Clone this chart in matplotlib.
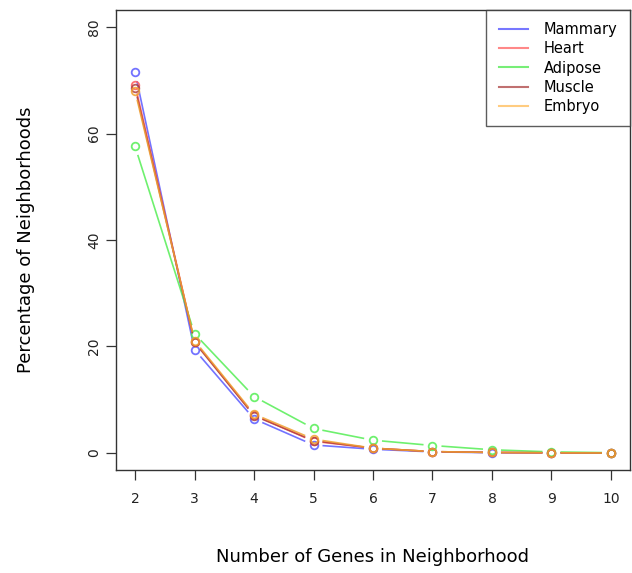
import matplotlib
matplotlib.use("Agg")
import matplotlib.pyplot as plt
import numpy as np
from matplotlib.lines import Line2D

genes = [2, 3, 4, 5, 6, 7, 8, 9, 10]
series_names = ["Mammary", "Heart", "Adipose", "Muscle", "Embryo"]
mammary = [71.5, 19.4, 6.4, 1.5, 0.7, 0.2, 0.05, 0.02, 0.0]
heart = [69.2, 20.9, 7.1, 2.2, 0.9, 0.25, 0.1, 0.03, 0.0]
adipose = [57.6, 22.4, 10.6, 4.6, 2.4, 1.4, 0.6, 0.2, 0.05]
muscle = [68.6, 20.8, 7.0, 2.3, 0.9, 0.25, 0.1, 0.03, 0.0]
embryo = [68.0, 21.1, 7.3, 2.6, 0.9, 0.25, 0.1, 0.03, 0.0]
colors = ["#5a5aff", "#ff5a5a", "#55ee55", "#b04040", "#f0a030"]
legend_colors = ["#7777ff", "#ff8888", "#77ee77", "#c07070", "#ffcc80"]

fig = plt.figure(figsize=(6.32, 5.73), dpi=100)
ax = fig.add_axes([116/632, 1-470/573, (630-116)/632, (470-10)/573])
ax.set_xlim(1.68, 10.32)
ax.set_ylim(-3.2, 83.2)

all_series = [mammary, heart, adipose, muscle, embryo]
fig.canvas.draw()
gap = 9.0  # pixels
inv = ax.transData.inverted()
for vals, c in zip(all_series, colors):
    pts = ax.transData.transform(np.column_stack([genes, vals]))
    for i in range(len(pts) - 1):
        p0, p1 = pts[i], pts[i + 1]
        d = p1 - p0
        L = np.hypot(*d)
        if L <= 2 * gap:
            continue
        u = d / L
        a = p0 + u * gap
        b = p1 - u * gap
        da = inv.transform(np.vstack([a, b]))
        ax.plot(da[:, 0], da[:, 1], color=c, lw=1.2, alpha=0.85, solid_capstyle="butt")
    ax.plot(genes, vals, linestyle="none", marker="o", markersize=5.5,
            markerfacecolor="none", markeredgecolor=c, markeredgewidth=1.3, alpha=0.85)

ax.set_xticks(genes)
ax.set_yticks([0, 20, 40, 60, 80])
ax.tick_params(axis="both", length=7, width=0.9, labelsize=10, color="#333333", labelcolor="#222222")
ax.tick_params(axis="x", pad=9)
for lab in ax.get_yticklabels():
    lab.set_rotation(90)
    lab.set_va("center")
for s in ax.spines.values():
    s.set_linewidth(1.0)
    s.set_color("#333333")

ax.set_xlabel("Number of Genes in Neighborhood", fontsize=13, labelpad=30)
ax.set_ylabel("Percentage of Neighborhoods", fontsize=13, labelpad=38)

handles = [Line2D([0], [0], color=c, lw=1.5) for c in legend_colors]
leg = ax.legend(handles, series_names, loc="upper right", fontsize=10.5,
                frameon=True, fancybox=False, borderaxespad=0, handlelength=2.0,
                labelspacing=0.28, borderpad=0.85, handletextpad=1.1)
leg.get_frame().set_edgecolor("#333333")
leg.get_frame().set_linewidth(1.0)

fig.savefig("out.png", dpi=100)
